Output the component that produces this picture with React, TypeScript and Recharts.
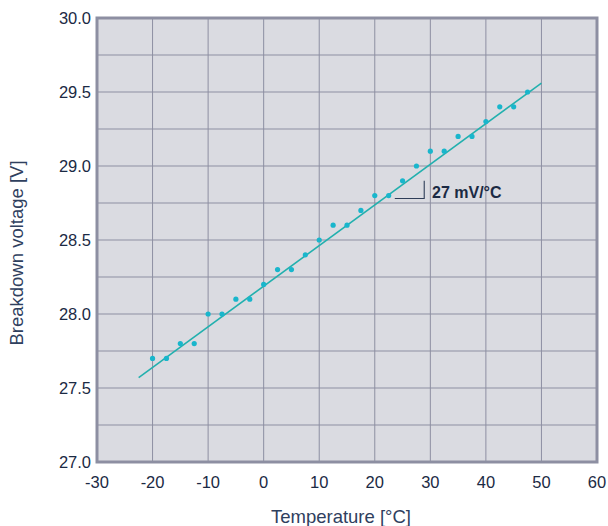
import { ComposedChart, CartesianGrid, XAxis, YAxis, Scatter, Line, ReferenceArea, ReferenceDot } from 'recharts'

const temps = [-20, -17.5, -15, -12.5, -10, -7.5, -5, -2.5, 0, 2.5, 5, 7.5, 10, 12.5, 15, 17.5, 20, 22.5, 25, 27.5, 30, 32.5, 35, 37.5, 40, 42.5, 45, 47.5]
const voltages = [27.7, 27.7, 27.8, 27.8, 28.0, 28.0, 28.1, 28.1, 28.2, 28.3, 28.3, 28.4, 28.5, 28.6, 28.6, 28.7, 28.8, 28.8, 28.9, 29.0, 29.1, 29.1, 29.2, 29.2, 29.3, 29.4, 29.4, 29.5]
const fitTemps = [-22.5, 50]
const fitVolts = [27.57, 29.56]
// slope marker (L shape) next to the fit line
const markTemps = [23.6, 28.9, 28.9]
const markVolts = [28.78, 28.78, 28.9]
const xTicks = [-30, -20, -10, 0, 10, 20, 30, 40, 50, 60]
const yTicks = [27, 27.25, 27.5, 27.75, 28, 28.25, 28.5, 28.75, 29, 29.25, 29.5, 29.75, 30]

const points = temps.map((t, i) => ({ x: t, y: voltages[i] }))
const fit = fitTemps.map((t, i) => ({ x: t, y: fitVolts[i] }))
const mark = markTemps.map((t, i) => ({ x: t, y: markVolts[i] }))

const font = '"Liberation Sans", Arial, sans-serif'
const ink = '#1b2a44'
const titleInk = '#2f405e'
const gridColor = '#8d8fa2'

export default function App() {
  return (
    <div style={{ position: 'absolute', left: 0, top: 0, width: 608, height: 526, background: '#fff' }}>
      <ComposedChart width={608} height={526} margin={{ top: 18, right: 11, bottom: 0, left: 0 }} style={{ fontFamily: font }}>
        <CartesianGrid fill="#dadbe1" stroke={gridColor} strokeWidth={1} />
        <XAxis
          type="number"
          dataKey="x"
          domain={[-30, 60]}
          ticks={xTicks}
          allowDataOverflow
          height={64}
          tickLine={false}
          axisLine={false}
          tickMargin={8}
          tick={{ fill: ink, fontSize: 16.5 }}
          label={{
            content: ({ viewBox }: any) => (
              <text x={341} y={viewBox.y + 61} textAnchor="middle" fill={titleInk} fontSize={18.5} fontFamily={font}>
                Temperature [°C]
              </text>
            ),
          }}
        />
        <YAxis
          type="number"
          dataKey="y"
          domain={[27, 30]}
          ticks={yTicks}
          allowDataOverflow
          width={97}
          tickLine={false}
          axisLine={false}
          tickMargin={0}
          tickFormatter={(v: number) => (Math.round(v * 100) % 50 === 0 ? v.toFixed(1) : '')}
          tick={{ fill: ink, fontSize: 16.5 }}
          label={{
            content: () => (
              <text
                x={16}
                y={253}
                textAnchor="middle"
                dominantBaseline="central"
                transform="rotate(-90, 16, 253)"
                fill={titleInk}
                fontSize={18.5}
                fontFamily={font}
              >
                Breakdown voltage [V]
              </text>
            ),
          }}
        />
        <ReferenceArea x1={-30} x2={60} y1={27} y2={30} fill="none" stroke={gridColor} strokeWidth={3} ifOverflow="visible" />
        <Line data={fit} dataKey="y" type="linear" stroke="#22b0ae" strokeWidth={1.6} dot={false} isAnimationActive={false} />
        <Scatter data={points} dataKey="y" fill="#19b6cc" shape={(p: any) => <circle cx={p.cx} cy={p.cy} r={2.6} fill="#19b6cc" />} isAnimationActive={false} />
        <Line data={mark} dataKey="y" type="linear" stroke="#2e3d58" strokeWidth={1.1} dot={false} isAnimationActive={false} />
        <ReferenceDot
          x={29.4}
          y={28.82}
          r={0}
          ifOverflow="visible"
          label={{ value: '27 mV/°C', position: 'right', offset: 5, fill: ink, fontSize: 16, fontWeight: 'bold', fontFamily: font }}
        />
      </ComposedChart>
    </div>
  )
}
